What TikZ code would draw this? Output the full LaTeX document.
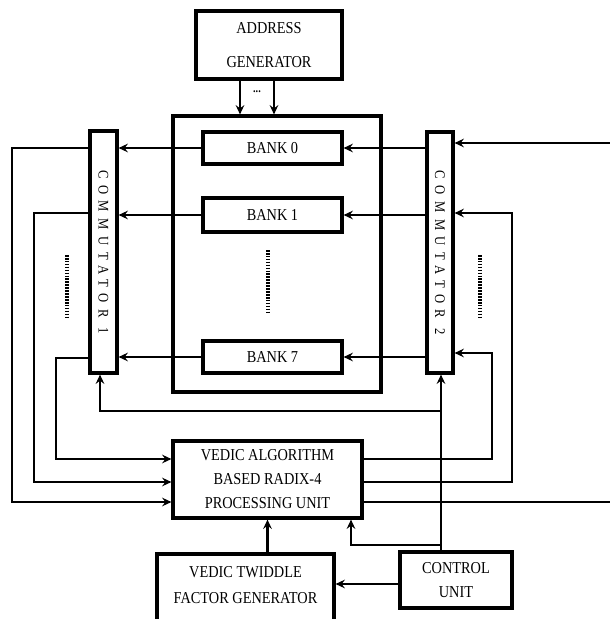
\documentclass[tikz,border=0pt]{standalone}
\usepackage{fontspec}
\setmainfont{Liberation Serif}[FakeStretch=0.86]
\usetikzlibrary{arrows.meta}
\begin{document}
\begin{tikzpicture}[x=0.75pt,y=-0.75pt,
  box/.style={draw, line width=2.4pt, inner sep=0pt, align=center, font=\fontsize{12.5}{18}\selectfont},
  lbl/.style={inner sep=0pt, align=center, font=\fontsize{12.5}{18}\selectfont},
  vlbl/.style={inner sep=0pt, rotate=-90, font=\fontsize{11}{12}\selectfont\addfontfeature{LetterSpace=45}},
  conn/.style={line width=1.9pt, -{Stealth[length=7pt,width=6.5pt,inset=2.5pt]}},
  wire/.style={line width=1.9pt},
  dots/.style={line width=2.4pt, dash pattern=on 1.2pt off 1pt}]
\useasboundingbox (0,0) rectangle (610,619);

% blocks
\node[box, minimum width=109.5pt, minimum height=51pt, font=\fontsize{12.5}{26}\selectfont] (addr) at (269,45) {ADDRESS\\GENERATOR};
\node[box, minimum width=156pt, minimum height=207pt] (mem) at (277,254) {};
\node[box, minimum width=104.25pt, minimum height=24pt] (bank0) at (272.5,148) {BANK 0};
\node[box, minimum width=104.25pt, minimum height=25.5pt] (bank1) at (272.5,215) {BANK 1};
\node[box, minimum width=104.25pt, minimum height=24pt] (bank7) at (272.5,357) {BANK 7};
\node[box, minimum width=20.25pt, minimum height=181.5pt] (comm1) at (103.5,252) {};
\node[vlbl] (comm1t) at (comm1) {COMMUTATOR 1};
\node[box, minimum width=19.5pt, minimum height=180.75pt] (comm2) at (440,252.5) {};
\node[vlbl] (comm2t) at (comm2) {COMMUTATOR 2};
\node[box, minimum width=141.75pt, minimum height=57.75pt] (PU) at (267.5,479.5) {VEDIC ALGORITHM\\BASED RADIX-4\\PROCESSING UNIT};
\node[box, minimum width=132.75pt, minimum height=54pt] (tw) at (245.5,590) {};
\node[lbl, font=\fontsize{12.5}{19}\selectfont] (twt) at (245.5,585) {VEDIC TWIDDLE\\FACTOR GENERATOR};
\node[box, minimum width=84pt, minimum height=42pt] (control) at (456,580) {CONTROL\\UNIT};

% address generator to memory
\draw[conn] ([xshift=-21.75pt]addr.south) -- ([xshift=-21.75pt]addr.south |- mem.north);
\draw[conn] ([xshift=3.75pt]addr.south) -- ([xshift=3.75pt]addr.south |- mem.north);
\node[inner sep=0pt, font=\fontsize{9}{10}\selectfont\bfseries] (adots) at (257,92) {...};

% banks
\foreach \b in {bank0,bank1,bank7}{
  \draw[conn] (\b.west) -- (\b.west -| comm1.east);
  \draw[conn] (\b.east -| comm2.west) -- (\b.east);
}

% right input
\coordinate (inR) at (610,143);
\draw[conn] (inR) -- (inR -| comm2.east);

% left loops into processing unit
\coordinate (L0) at (12,148);
\coordinate (L1) at (34,213);
\coordinate (L7) at (56,358);
\coordinate (P0) at (0,502);
\coordinate (P1) at (0,482);
\coordinate (P7) at (0,459);
\draw[conn] (comm1.west |- L0) -- (L0) |- (PU.west |- P0);
\draw[conn] (comm1.west |- L1) -- (L1) |- (PU.west |- P1);
\draw[conn] (comm1.west |- L7) -- (L7) |- (PU.west |- P7);

% right loops back to commutator 2
\coordinate (R7) at (492,353);
\coordinate (R1) at (512,213);
\coordinate (outR) at (610,502);
\draw[conn] (PU.east |- P7) -| (R7) -- (R7 -| comm2.east);
\draw[conn] (PU.east |- P1) -| (R1) -- (R1 -| comm2.east);
\draw[wire] (PU.east |- P0) -- (outR);

% control unit
\coordinate (cx) at (441,411);
\coordinate (cl) at (100,411);
\coordinate (cb) at (351,545);
\draw[conn] (control.north -| cx) -- (cx |- comm2.south);
\draw[conn] (cx) -- (cl) -- (cl |- comm1.south);
\draw[conn] (cx |- cb) -- (cb) -- (cb |- PU.south);
\draw[conn] (PU.south |- tw.north) -- (PU.south);
\draw[conn] ([yshift=-3pt]control.west) -- ([yshift=-3pt]control.west -| tw.east);

% dotted continuation marks
\draw[dots] (67,255) -- (67,317);
\draw[dots] (268,250) -- (268,313);
\draw[dots] (480,255) -- (480,317);
\end{tikzpicture}
\end{document}
